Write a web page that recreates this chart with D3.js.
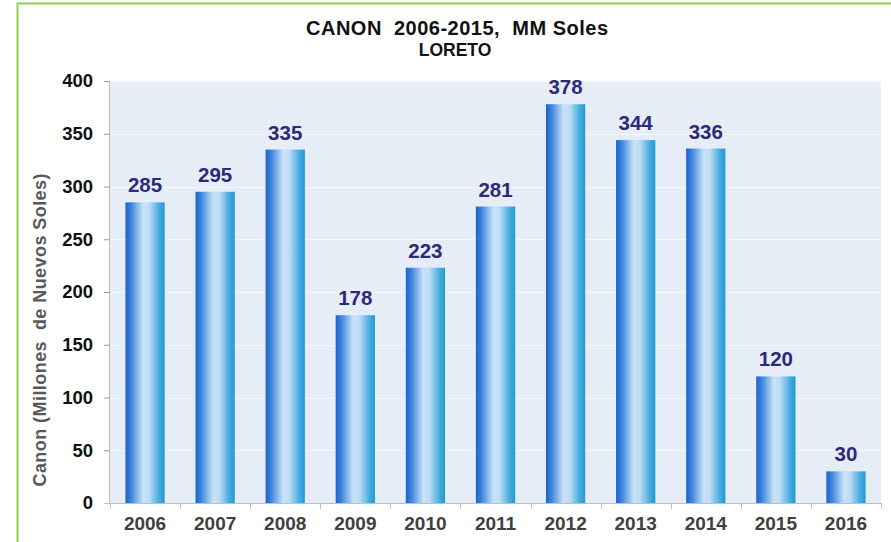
<!DOCTYPE html>
<html><head><meta charset="utf-8">
<script src="https://cdn.jsdelivr.net/npm/d3@7"></script>
<style>body{margin:0;background:#fff;}svg{display:block;font-family:"Liberation Sans",Arial,sans-serif;}</style>
</head><body><svg id="c" width="891" height="542"></svg>
<script>
const years = ["2006","2007","2008","2009","2010","2011","2012","2013","2014","2015","2016"];
const values = [285,295,335,178,223,281,378,344,336,120,30];
const yTicks = [0,50,100,150,200,250,300,350,400];
const titleText = "CANON  2006-2015,  MM Soles";
const subtitleText = "LORETO";
const yTitle = "Canon (Millones  de Nuevos Soles)";

const svg = d3.select("#c");
const m = {l:110, r:881, t:81, b:503};

svg.append("rect").attr("x",17.5).attr("y",3.5).attr("width",900).attr("height",560)
  .attr("fill","#fff").attr("stroke","#8fd14f").attr("stroke-width",2);

const defs = svg.append("defs");
const g = defs.append("linearGradient").attr("id","bar").attr("x1","0").attr("x2","1").attr("y1","0").attr("y2","0");
[["0%","#1c63c9"],["15%","#3f87dc"],["45%","#c9e2f8"],["60%","#bfdcf5"],["85%","#4aaee0"],["100%","#1c9ad3"]]
  .forEach(([o,c])=>g.append("stop").attr("offset",o).attr("stop-color",c));

const x = d3.scaleBand().domain(years).range([m.l,m.r]).paddingInner(0.44).paddingOuter(0.22);
const y = d3.scaleLinear().domain([0,400]).range([m.b,m.t]);

svg.append("rect").attr("x",m.l).attr("y",m.t).attr("width",m.r-m.l).attr("height",m.b-m.t).attr("fill","#e7edf6");

svg.append("g").selectAll("line").data(yTicks.filter(d=>d>0)).join("line")
  .attr("x1",m.l).attr("x2",m.r).attr("y1",d=>Math.round(y(d))+0.5).attr("y2",d=>Math.round(y(d))+0.5)
  .attr("stroke","#f3f6fb").attr("stroke-width",1);

svg.append("g").selectAll("rect").data(values).join("rect")
  .attr("x",(d,i)=>x(years[i])).attr("width",x.bandwidth())
  .attr("y",d=>y(d)).attr("height",d=>y(0)-y(d)).attr("fill","url(#bar)");

svg.append("g").selectAll("text").data(values).join("text")
  .attr("x",(d,i)=>x(years[i])+x.bandwidth()/2).attr("y",d=>y(d)-10)
  .attr("text-anchor","middle").attr("font-size",20.5).attr("font-weight","bold").attr("fill","#2b2b78")
  .text(d=>d);

const ya = svg.append("g").attr("transform",`translate(${m.l},0)`)
  .call(d3.axisLeft(y).tickValues(yTicks).tickSize(6).tickPadding(11));
ya.select(".domain").attr("stroke","#bfbfbf").attr("d",`M-0.5,${m.t}V${m.b}`);
ya.selectAll(".tick line").attr("stroke","#9a9a9a");
ya.selectAll("text").attr("font-size",18.5).attr("font-weight","bold").attr("fill","#111")
  .attr("font-family","Liberation Sans, Arial, sans-serif");

const xa = svg.append("g").attr("transform",`translate(0,${m.b})`)
  .call(d3.axisBottom(x).tickSize(0).tickPadding(14));
xa.select(".domain").attr("stroke","#bfbfbf").attr("d",`M${m.l-6},0.5H${m.r}`);
xa.selectAll("text").attr("font-size",19).attr("font-weight","bold").attr("fill","#404040")
  .attr("font-family","Liberation Sans, Arial, sans-serif");
const bounds = d3.range(years.length+1).map(i=>m.l + i*(m.r-m.l)/years.length);
xa.append("g").selectAll("line").data(bounds).join("line")
  .attr("x1",d=>Math.round(d)+0.5).attr("x2",d=>Math.round(d)+0.5).attr("y1",0).attr("y2",6)
  .attr("stroke","#bfbfbf");

svg.append("text").attr("x",457).attr("y",35).attr("text-anchor","middle")
  .attr("font-size",20).attr("font-weight","bold").attr("fill","#111").attr("xml:space","preserve")
  .attr("textLength",302).attr("lengthAdjust","spacing").text(titleText);
svg.append("text").attr("x",455).attr("y",56).attr("text-anchor","middle")
  .attr("font-size",17.5).attr("font-weight","bold").attr("fill","#111").text(subtitleText);
svg.append("text").attr("transform",`translate(46,330) rotate(-90)`).attr("text-anchor","middle")
  .attr("font-size",18).attr("font-weight","bold").attr("fill","#595959").attr("xml:space","preserve")
  .attr("textLength",313).attr("lengthAdjust","spacing").text(yTitle);
</script></body></html>
